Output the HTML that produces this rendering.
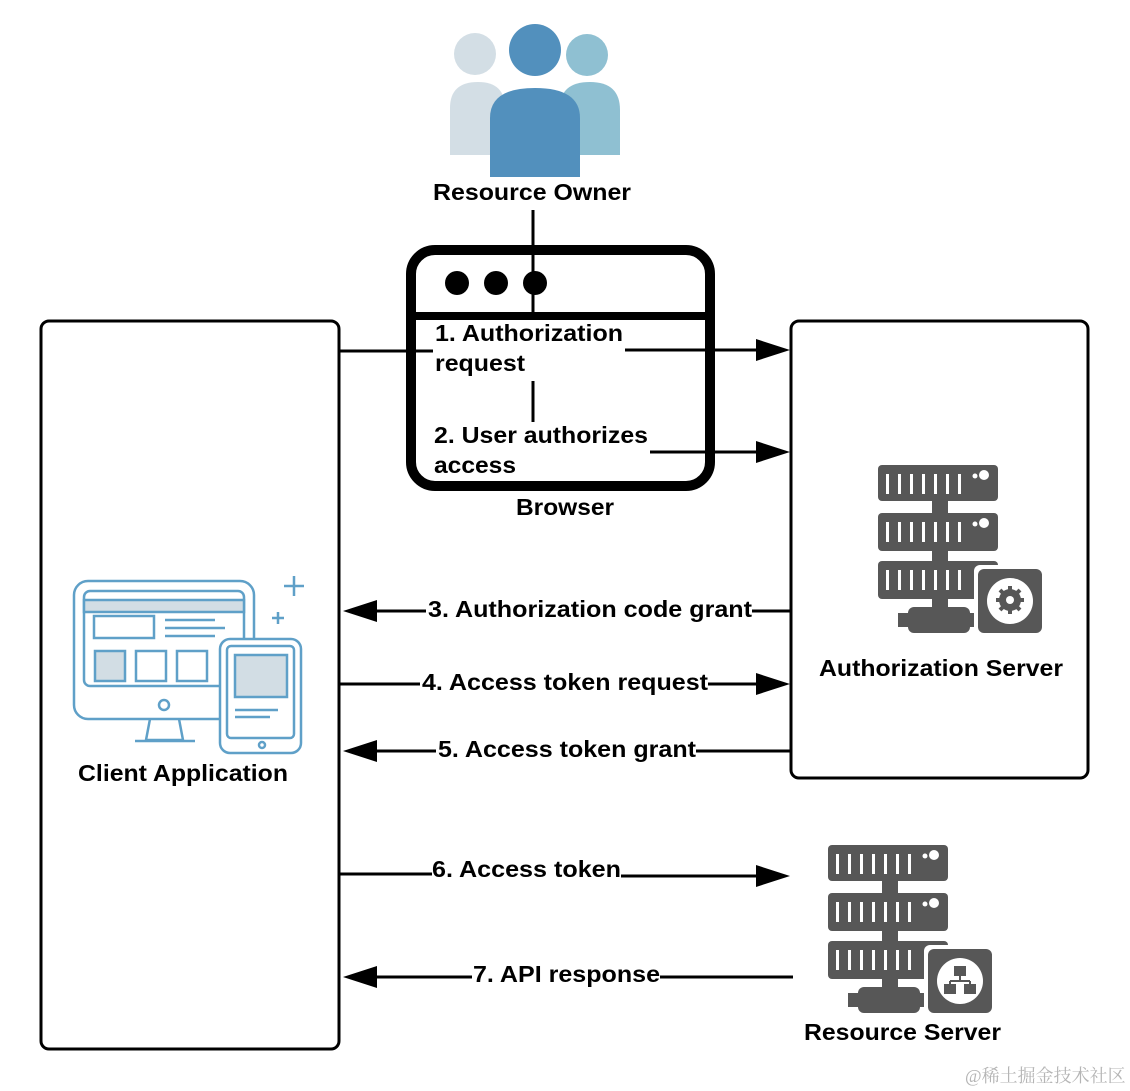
<!DOCTYPE html>
<html><head><meta charset="utf-8"><style>
html,body{margin:0;padding:0;background:#fff}
svg{display:block}
text{font-family:"Liberation Sans",Arial,sans-serif;font-weight:bold;font-size:23px;fill:#000}
</style></head><body>
<svg width="1130" height="1091" viewBox="0 0 1130 1091" xmlns="http://www.w3.org/2000/svg">
<defs>
<g id="srv">
  <rect x="0" y="0" width="120" height="36" rx="4" fill="#575757"/>
  <rect x="0" y="48" width="120" height="38" rx="4" fill="#575757"/>
  <rect x="0" y="96" width="120" height="38" rx="4" fill="#575757"/>
  <rect x="54" y="30" width="16" height="130" fill="#575757"/>
  <rect x="30" y="142" width="62" height="26" rx="6" fill="#575757"/>
  <rect x="20" y="148" width="12" height="14" fill="#575757"/>
  <rect x="88" y="148" width="12" height="14" fill="#575757"/>
  <g fill="#fff">
    <rect x="8" y="9" width="3" height="20"/><rect x="20" y="9" width="3" height="20"/><rect x="32" y="9" width="3" height="20"/><rect x="44" y="9" width="3" height="20"/><rect x="56" y="9" width="3" height="20"/><rect x="68" y="9" width="3" height="20"/><rect x="80" y="9" width="3" height="20"/>
    <rect x="8" y="57" width="3" height="20"/><rect x="20" y="57" width="3" height="20"/><rect x="32" y="57" width="3" height="20"/><rect x="44" y="57" width="3" height="20"/><rect x="56" y="57" width="3" height="20"/><rect x="68" y="57" width="3" height="20"/><rect x="80" y="57" width="3" height="20"/>
    <rect x="8" y="105" width="3" height="20"/><rect x="20" y="105" width="3" height="20"/><rect x="32" y="105" width="3" height="20"/><rect x="44" y="105" width="3" height="20"/><rect x="56" y="105" width="3" height="20"/><rect x="68" y="105" width="3" height="20"/><rect x="80" y="105" width="3" height="20"/>
    <circle cx="106" cy="10" r="5"/><circle cx="97" cy="11" r="2.5"/>
    <circle cx="106" cy="58" r="5"/><circle cx="97" cy="59" r="2.5"/>
  </g>
  <rect x="96" y="100" width="70" height="68" rx="6" fill="#fff"/>
  <rect x="100" y="104" width="64" height="64" rx="6" fill="#575757"/>
  <circle cx="132" cy="136" r="23" fill="#fff"/>
</g>
</defs>

<!-- resource owner -->
<circle cx="475" cy="54" r="21" fill="#d3dee5"/>
<path d="M450 155 V108 Q450 82 478 82 Q505 82 505 108 V155 Z" fill="#d3dee5"/>
<circle cx="587" cy="55" r="21" fill="#8fc0d2"/>
<path d="M560 155 V108 Q560 82 590 82 Q620 82 620 110 V155 Z" fill="#8fc0d2"/>
<circle cx="535" cy="50" r="26" fill="#5290bd"/>
<path d="M490 177 V118 Q490 88 535 88 Q580 88 580 118 V177 Z" fill="#5290bd"/>
<text x="433" y="200" textLength="198" lengthAdjust="spacingAndGlyphs">Resource Owner</text>

<!-- browser -->
<rect x="411" y="250" width="299" height="236" rx="24" fill="#fff" stroke="#000" stroke-width="10"/>
<line x1="411" y1="316" x2="710" y2="316" stroke="#000" stroke-width="8"/>
<circle cx="457" cy="283" r="12"/><circle cx="496" cy="283" r="12"/><circle cx="535" cy="283" r="12"/>
<line x1="533" y1="210" x2="533" y2="316" stroke="#000" stroke-width="3"/>
<line x1="533" y1="381" x2="533" y2="422" stroke="#000" stroke-width="3"/>
<text x="435" y="341" textLength="188" lengthAdjust="spacingAndGlyphs">1. Authorization</text>
<text x="435" y="371" textLength="90" lengthAdjust="spacingAndGlyphs">request</text>
<text x="434" y="443" textLength="214" lengthAdjust="spacingAndGlyphs">2. User authorizes</text>
<text x="434" y="473" textLength="82" lengthAdjust="spacingAndGlyphs">access</text>
<text x="516" y="515" textLength="98" lengthAdjust="spacingAndGlyphs">Browser</text>

<!-- boxes -->
<rect x="41" y="321" width="298" height="728" rx="8" fill="none" stroke="#000" stroke-width="3"/>
<rect x="791" y="321" width="297" height="457" rx="8" fill="none" stroke="#000" stroke-width="3"/>

<!-- client icon -->
<g fill="none" stroke="#5fa0c8" stroke-width="2.5">
  <rect x="74" y="581" width="180" height="138" rx="14"/>
  <rect x="84" y="591" width="160" height="95" rx="6"/>
  <path d="M84 600 H244 V612 H84 Z" fill="#d2dde4"/>
  <rect x="94" y="616" width="60" height="22" fill="#fff"/>
  <line x1="165" y1="620" x2="215" y2="620"/><line x1="165" y1="628" x2="225" y2="628"/><line x1="165" y1="636" x2="215" y2="636"/>
  <rect x="95" y="651" width="30" height="30" fill="#d2dde4"/>
  <rect x="136" y="651" width="30" height="30"/>
  <rect x="177" y="651" width="30" height="30"/>
  <circle cx="164" cy="705" r="5"/>
  <path d="M150 719 L146 740 H183 L179 719"/>
  <line x1="135" y1="741" x2="195" y2="741"/>
  <rect x="220" y="639" width="81" height="114" rx="10" fill="#fff"/>
  <rect x="227" y="646" width="67" height="92" rx="4"/>
  <rect x="235" y="655" width="52" height="42" fill="#d2dde4"/>
  <line x1="235" y1="710" x2="278" y2="710"/><line x1="235" y1="717" x2="270" y2="717"/>
  <circle cx="262" cy="745" r="3"/>
  <path d="M294 576 V596 M284 586 H304 M278 612 V624 M272 618 H284"/>
</g>
<text x="78" y="781" textLength="210" lengthAdjust="spacingAndGlyphs">Client Application</text>

<!-- servers -->
<use href="#srv" transform="translate(878,465)"/>
<g transform="translate(1010,600)" fill="#575757"><circle r="11"/><g stroke="#575757" stroke-width="4"><line x1="0" y1="-14" x2="0" y2="14"/><line x1="-14" y1="0" x2="14" y2="0"/><line x1="-10" y1="-10" x2="10" y2="10"/><line x1="-10" y1="10" x2="10" y2="-10"/></g><circle r="4" fill="#fff"/></g>
<text x="819" y="676" textLength="244" lengthAdjust="spacingAndGlyphs">Authorization Server</text>

<use href="#srv" transform="translate(828,845)"/>
<g transform="translate(960,981)" fill="#575757" stroke="#575757" stroke-width="2">
  <rect x="-5" y="-14" width="10" height="8"/><rect x="-15" y="4" width="10" height="8"/><rect x="5" y="4" width="10" height="8"/>
  <path d="M0 -6 V0 M-10 0 H10 M-10 0 V4 M10 0 V4" fill="none"/>
</g>
<text x="804" y="1040" textLength="197" lengthAdjust="spacingAndGlyphs">Resource Server</text>

<!-- connectors -->
<g stroke="#000" stroke-width="3" fill="none">
  <line x1="340" y1="351" x2="433" y2="351"/>
  <line x1="625" y1="350" x2="762" y2="350"/>
  <line x1="650" y1="452" x2="762" y2="452"/>
  <line x1="752" y1="611" x2="790" y2="611"/>
  <line x1="372" y1="611" x2="426" y2="611"/>
  <line x1="340" y1="684" x2="420" y2="684"/>
  <line x1="708" y1="684" x2="762" y2="684"/>
  <line x1="372" y1="751" x2="436" y2="751"/>
  <line x1="696" y1="751" x2="790" y2="751"/>
  <line x1="340" y1="874" x2="432" y2="874"/>
  <line x1="621" y1="876" x2="762" y2="876"/>
  <line x1="372" y1="977" x2="472" y2="977"/>
  <line x1="660" y1="977" x2="793" y2="977"/>
</g>
<g fill="#000">
  <path d="M790 350 L756 339 L756 361 Z"/>
  <path d="M790 452 L756 441 L756 463 Z"/>
  <path d="M343 611 L377 600 L377 622 Z"/>
  <path d="M790 684 L756 673 L756 695 Z"/>
  <path d="M343 751 L377 740 L377 762 Z"/>
  <path d="M790 876 L756 865 L756 887 Z"/>
  <path d="M343 977 L377 966 L377 988 Z"/>
</g>
<text x="428" y="617" textLength="324" lengthAdjust="spacingAndGlyphs">3. Authorization code grant</text>
<text x="422" y="690" textLength="286" lengthAdjust="spacingAndGlyphs">4. Access token request</text>
<text x="438" y="757" textLength="258" lengthAdjust="spacingAndGlyphs">5. Access token grant</text>
<text x="432" y="877" textLength="189" lengthAdjust="spacingAndGlyphs">6. Access token</text>
<text x="473" y="982" textLength="187" lengthAdjust="spacingAndGlyphs">7. API response</text>

<text x="965" y="1082" style="font-family:'Liberation Serif','Noto Serif CJK SC',serif;font-weight:normal;font-size:18px;fill:#b5b5b5">@稀土掘金技术社区</text>
</svg>
</body></html>
